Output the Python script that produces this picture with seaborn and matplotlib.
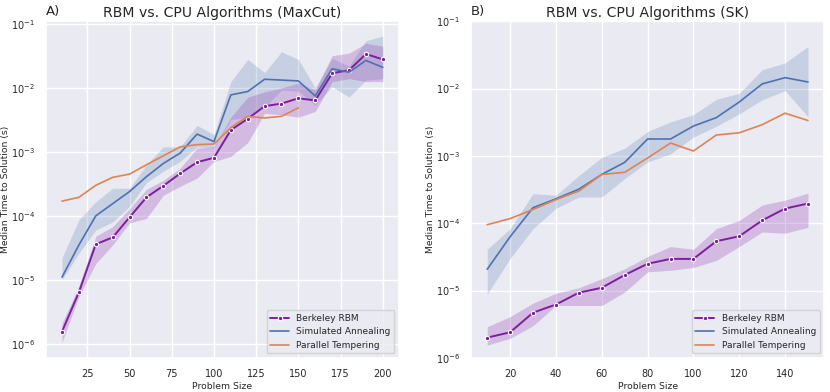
import matplotlib
matplotlib.use("Agg")
import matplotlib.pyplot as plt
import seaborn as sns

# A) MaxCut
maxcut_sizes = [10, 20, 30, 40, 50, 60, 70, 80, 90, 100, 110, 120, 130, 140, 150, 160, 170, 180, 190, 200]
maxcut_rbm = [1.55e-6, 6.4e-6, 3.6e-5, 4.6e-5, 9.5e-5, 1.95e-4, 2.95e-4, 4.6e-4, 6.9e-4, 8.1e-4,
              2.2e-3, 3.3e-3, 5.2e-3, 5.7e-3, 6.9e-3, 6.4e-3, 1.7e-2, 1.9e-2, 3.4e-2, 2.8e-2]
maxcut_rbm_lo = [1.05e-6, 5.5e-6, 1.8e-5, 3.5e-5, 7.8e-5, 9.1e-5, 2.1e-4, 2.9e-4, 3.9e-4, 7.1e-4,
                 8.5e-4, 1.4e-3, 4.0e-3, 3.8e-3, 3.5e-3, 4.3e-3, 1.26e-2, 1.4e-2, 1.26e-2, 1.26e-2]
maxcut_rbm_hi = [2.1e-6, 7.9e-6, 4.8e-5, 6.8e-5, 1.3e-4, 2.6e-4, 3.6e-4, 5.6e-4, 1.15e-3, 1.2e-3,
                 3.5e-3, 7.2e-3, 8.7e-3, 1.0e-2, 1.2e-2, 9.3e-3, 3.2e-2, 3.5e-2, 5.0e-2, 4.5e-2]

maxcut_sa = [1.1e-5, 3.5e-5, 1.0e-4, 1.55e-4, 2.4e-4, 4.1e-4, 6.6e-4, 9.6e-4, 1.9e-3, 1.45e-3,
             7.8e-3, 8.8e-3, 1.37e-2, 1.33e-2, 1.29e-2, 7.5e-3, 2.0e-2, 1.76e-2, 2.7e-2, 2.1e-2]
maxcut_sa_lo = [1.0e-5, 2.6e-5, 6.0e-5, 8.0e-5, 1.4e-4, 3.3e-4, 5.0e-4, 7.1e-4, 1.2e-3, 1.15e-3,
                3.2e-3, 3.5e-3, 5.0e-3, 9.3e-3, 8.9e-3, 5.4e-3, 1.05e-2, 7.2e-3, 1.33e-2, 1.4e-2]
maxcut_sa_hi = [2.2e-5, 8.7e-5, 1.66e-4, 2.7e-4, 2.7e-4, 6.3e-4, 1.2e-3, 1.2e-3, 2.6e-3, 1.86e-3,
                1.26e-2, 2.8e-2, 1.74e-2, 3.7e-2, 2.8e-2, 1.0e-2, 2.9e-2, 2.2e-2, 5.5e-2, 6.5e-2]

maxcut_pt_sizes = [10, 20, 30, 40, 50, 60, 70, 80, 90, 100, 110, 120, 130, 140, 150]
maxcut_pt = [1.7e-4, 1.95e-4, 3.0e-4, 4.0e-4, 4.5e-4, 6.3e-4, 8.7e-4, 1.2e-3, 1.3e-3, 1.33e-3,
             2.4e-3, 3.6e-3, 3.4e-3, 3.6e-3, 4.9e-3]

# B) SK
sk_sizes = [10, 20, 30, 40, 50, 60, 70, 80, 90, 100, 110, 120, 130, 140, 150]
sk_rbm = [2.0e-6, 2.4e-6, 4.7e-6, 6.2e-6, 9.3e-6, 1.1e-5, 1.7e-5, 2.5e-5, 2.95e-5, 2.95e-5,
          5.4e-5, 6.4e-5, 1.1e-4, 1.65e-4, 1.96e-4]
sk_rbm_lo = [1.55e-6, 1.95e-6, 3.0e-6, 6.0e-6, 6.0e-6, 6.0e-6, 9.5e-6, 1.9e-5, 2.0e-5, 2.2e-5,
             2.8e-5, 4.5e-5, 7.4e-5, 7.1e-5, 8.7e-5]
sk_rbm_hi = [2.9e-6, 4.1e-6, 6.5e-6, 9.1e-6, 1.1e-5, 1.5e-5, 2.1e-5, 3.2e-5, 4.5e-5, 4.1e-5,
             8.3e-5, 1.1e-4, 1.86e-4, 2.2e-4, 2.8e-4]

sk_sa = [2.07e-5, 6.3e-5, 1.7e-4, 2.3e-4, 3.2e-4, 5.3e-4, 8.0e-4, 1.78e-3, 1.78e-3, 2.77e-3,
         3.7e-3, 6.3e-3, 1.17e-2, 1.45e-2, 1.25e-2]
sk_sa_lo = [8.9e-6, 3.0e-5, 8.3e-5, 1.66e-4, 2.45e-4, 2.45e-4, 4.6e-4, 8.1e-4, 1.07e-3, 1.9e-3,
            2.75e-3, 4.2e-3, 6.8e-3, 9.3e-3, 3.8e-3]
sk_sa_hi = [4.1e-5, 8.3e-5, 2.75e-4, 2.6e-4, 5.1e-4, 9.5e-4, 1.3e-3, 2.3e-3, 3.2e-3, 4.1e-3,
            6.9e-3, 8.5e-3, 1.9e-2, 2.4e-2, 4.2e-2]

sk_pt = [9.5e-5, 1.17e-4, 1.6e-4, 2.24e-4, 3.0e-4, 5.3e-4, 5.7e-4, 9.3e-4, 1.55e-3, 1.18e-3,
         2.04e-3, 2.2e-3, 2.9e-3, 4.3e-3, 3.35e-3]

RBM_COLOR = "#7e1e9c"
RBM_FILL = "#9b4dbb"
SA_COLOR = "#4c72b0"
PT_COLOR = "#dd8452"

sns.set_theme(style="darkgrid")
plt.rcParams["font.family"] = ["DejaVu Sans"]

fig, axes = plt.subplots(1, 2, figsize=(8.3, 3.92), dpi=100)
fig.subplots_adjust(left=0.0554, right=0.9928, top=0.946, bottom=0.087, wspace=0.205)


def draw_panel(ax, sizes, rbm, rbm_lo, rbm_hi, sa, sa_lo, sa_hi, pt_sizes, pt):
    ax.fill_between(sizes, sa_lo, sa_hi, color=SA_COLOR, alpha=0.22, linewidth=0)
    ax.fill_between(sizes, rbm_lo, rbm_hi, color=RBM_FILL, alpha=0.3, linewidth=0)
    sns.lineplot(x=sizes, y=rbm, ax=ax, color=RBM_COLOR, linewidth=1.4, marker="o",
                 markersize=3.2, markeredgecolor="white", markeredgewidth=0.8,
                 label="Berkeley RBM")
    sns.lineplot(x=sizes, y=sa, ax=ax, color=SA_COLOR, linewidth=1.2, label="Simulated Annealing")
    sns.lineplot(x=pt_sizes, y=pt, ax=ax, color=PT_COLOR, linewidth=1.2, label="Parallel Tempering")
    ax.set_yscale("log")
    ax.set_xlabel("Problem Size", fontsize=6.7, labelpad=2)
    ax.set_ylabel("Median Time to Solution (s)", fontsize=6.7, labelpad=0.5)
    ax.tick_params(labelsize=7, pad=2)
    ax.legend(loc="lower right", fontsize=6.5, frameon=True, handlelength=2.1)


draw_panel(axes[0], maxcut_sizes, maxcut_rbm, maxcut_rbm_lo, maxcut_rbm_hi,
           maxcut_sa, maxcut_sa_lo, maxcut_sa_hi, maxcut_pt_sizes, maxcut_pt)
axes[0].set_ylim(6.0e-7, 0.111)
axes[0].set_xticks([25, 50, 75, 100, 125, 150, 175, 200])
axes[0].set_title("RBM vs. CPU Algorithms (MaxCut)", fontsize=10.1, pad=3)
axes[0].text(0, 1.008, "A)", transform=axes[0].transAxes, fontsize=9.5, va="bottom")

draw_panel(axes[1], sk_sizes, sk_rbm, sk_rbm_lo, sk_rbm_hi,
           sk_sa, sk_sa_lo, sk_sa_hi, sk_sizes, sk_pt)
axes[1].set_ylim(1e-6, 1e-1)
axes[1].set_xticks([20, 40, 60, 80, 100, 120, 140])
axes[1].set_title("RBM vs. CPU Algorithms (SK)", fontsize=10.1, pad=3)
axes[1].text(0, 1.008, "B)", transform=axes[1].transAxes, fontsize=9.5, va="bottom")

fig.savefig("out.png", dpi=100)
